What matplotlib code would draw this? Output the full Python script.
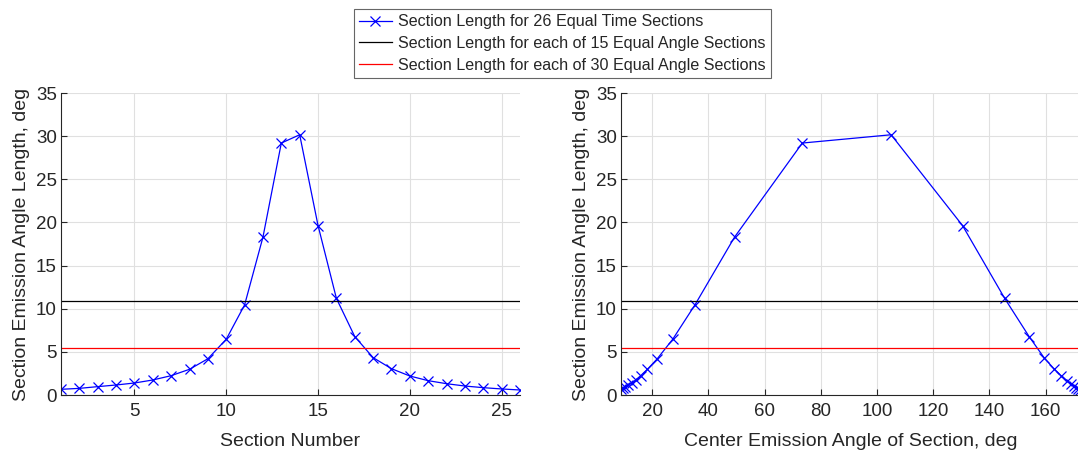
import matplotlib
matplotlib.use("Agg")
import matplotlib.pyplot as plt
import numpy as np

# ---- data ----
section_number = list(range(1, 27))
section_length = [0.66, 0.77, 0.97, 1.16, 1.39, 1.74, 2.24, 2.98, 4.2, 6.46,
                  10.44, 18.3, 29.2, 30.16, 19.64, 11.2, 6.77, 4.33, 3.05, 2.2,
                  1.66, 1.31, 1.04, 0.85, 0.70, 0.58]
center_angle = [8.9, 9.6, 10.5, 11.5, 12.8, 14.1, 15.9, 18.3, 21.8, 27.3,
                35.2, 49.3, 73.4, 105.0, 130.4, 145.4, 154.1, 159.4, 162.9, 165.6,
                167.5, 168.9, 170.0, 170.9, 171.6, 172.2]
equal_angle_15 = 10.9
equal_angle_30 = 5.45

legend_labels = ["Section Length for 26 Equal Time Sections",
                 "Section Length for each of 15 Equal Angle Sections",
                 "Section Length for each of 30 Equal Angle Sections"]

left_xticks = [5, 10, 15, 20, 25]
right_xticks = [20, 40, 60, 80, 100, 120, 140, 160]
yticks = [0, 5, 10, 15, 20, 25, 30, 35]

plt.rcParams['font.family'] = ['Liberation Sans', 'DejaVu Sans']
TXT = '#262626'
W, H = 1078, 450
fig = plt.figure(figsize=(W / 100, H / 100), dpi=100)

ax1 = fig.add_axes([61 / W, (H - 395) / H, 459 / W, 302 / H])
ax2 = fig.add_axes([621 / W, (H - 395) / H, 459 / W, 302 / H])


def style(ax, xlabel):
    for s in ['top', 'right']:
        ax.spines[s].set_visible(False)
    for s in ['left', 'bottom']:
        ax.spines[s].set_color(TXT)
        ax.spines[s].set_linewidth(0.8)
    ax.tick_params(direction='in', length=4, width=0.8, colors=TXT,
                   labelsize=13.5, labelcolor=TXT)
    ax.tick_params(axis='y', pad=3)
    ax.tick_params(axis='x', pad=6)
    ax.grid(True, color='#e0e0e0', linewidth=0.8)
    ax.set_axisbelow(True)
    ax.set_ylim(0, 35)
    ax.set_yticks(yticks)
    ax.set_xlabel(xlabel, fontsize=14, color=TXT, labelpad=9)
    ax.set_ylabel("Section Emission Angle Length, deg", fontsize=14, color=TXT, labelpad=4)


# left plot
l1, = ax1.plot(section_number, section_length, '-x', color='#0000ff', lw=0.9,
               markersize=7, markeredgewidth=0.9)
l2 = ax1.axhline(equal_angle_15, color='black', lw=0.9)
l3 = ax1.axhline(equal_angle_30, color='#ff0000', lw=0.9)
ax1.set_xlim(1, 26)
ax1.set_xticks(left_xticks)
style(ax1, "Section Number")

# right plot
ax2.plot(center_angle, section_length, '-x', color='#0000ff', lw=0.9,
         markersize=7, markeredgewidth=0.9)
ax2.axhline(equal_angle_15, color='black', lw=0.9)
ax2.axhline(equal_angle_30, color='#ff0000', lw=0.9)
ax2.set_xlim(center_angle[0], center_angle[-1])
ax2.set_xticks(right_xticks)
style(ax2, "Center Emission Angle of Section, deg")

leg = fig.legend([l1, l2, l3], legend_labels, loc='upper center',
                 bbox_to_anchor=(562.5 / W, 1 - 8.5 / H), fontsize=11.6,
                 frameon=True, fancybox=False, edgecolor='#404040',
                 handlelength=2.0, handletextpad=0.4, labelspacing=0.42,
                 borderpad=0.35, borderaxespad=0)
leg.get_frame().set_linewidth(0.8)
for t in leg.get_texts():
    t.set_color(TXT)

fig.savefig("out.png", dpi=100)
